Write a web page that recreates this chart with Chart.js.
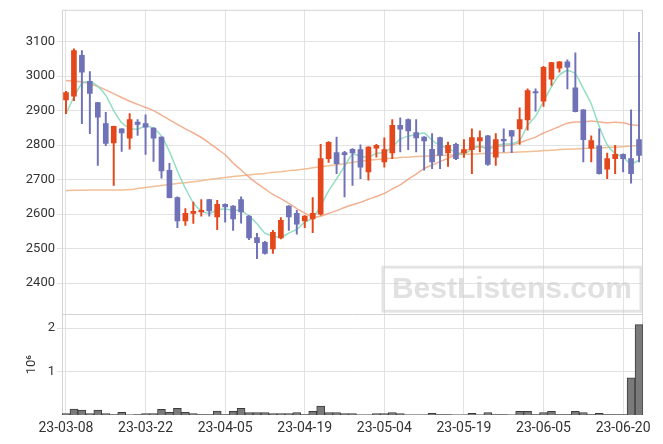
<!DOCTYPE html>
<html>
<head>
<meta charset="utf-8">
<script src="https://cdn.jsdelivr.net/npm/chart.js@4.4.0/dist/chart.umd.min.js"></script>
<style>
  html, body { margin: 0; padding: 0; background: #ffffff; }
</style>
</head>
<body>
<canvas id="chart" width="663" height="444"></canvas>
<script>
// trading days, 23-03-08 .. 23-06-22
const dates = [
  "23-03-08","23-03-09","23-03-10","23-03-13","23-03-14","23-03-15","23-03-16","23-03-17","23-03-20","23-03-21",
  "23-03-22","23-03-23","23-03-24","23-03-27","23-03-28","23-03-29","23-03-30","23-03-31","23-04-03","23-04-04",
  "23-04-05","23-04-06","23-04-07","23-04-10","23-04-11","23-04-12","23-04-13","23-04-14","23-04-17","23-04-18",
  "23-04-19","23-04-20","23-04-21","23-04-24","23-04-25","23-04-26","23-04-27","23-04-28","23-05-02","23-05-03",
  "23-05-04","23-05-08","23-05-09","23-05-10","23-05-11","23-05-12","23-05-15","23-05-16","23-05-17","23-05-18",
  "23-05-19","23-05-22","23-05-23","23-05-24","23-05-25","23-05-26","23-05-30","23-05-31","23-06-01","23-06-02",
  "23-06-05","23-06-07","23-06-08","23-06-09","23-06-12","23-06-13","23-06-14","23-06-15","23-06-16","23-06-19",
  "23-06-20","23-06-21","23-06-22"
];

const opens = [
  2931,2942,3060,2985,2923,2862,2806,2847,2820,2867,
  2862,2849,2823,2727,2648,2580,2602,2606,2642,2592,
  2628,2623,2642,2594,2532,2518,2499,2531,2623,2602,
  2580,2586,2600,2761,2778,2778,2788,2787,2722,2791,
  2751,2777,2857,2874,2836,2823,2788,2822,2777,2802,
  2777,2787,2812,2827,2765,2817,2842,2847,2873,2955,
  2927,2991,3023,3041,2966,2902,2791,2798,2730,2761,
  2773,2761,2816
];
const highs = [
  2956,3079,3074,3013,2924,2895,2855,2848,2891,2874,
  2888,2851,2824,2747,2650,2616,2635,2642,2643,2640,
  2630,2625,2650,2596,2544,2521,2553,2590,2625,2611,
  2596,2648,2802,2810,2823,2782,2790,2801,2796,2802,
  2821,2874,2879,2876,2874,2825,2833,2823,2809,2806,
  2816,2847,2841,2828,2833,2847,2843,2908,2963,2963,
  3028,3040,3042,3047,3067,2903,2827,2847,2777,2799,
  2775,2902,3127
];
const lows = [
  2891,2929,2862,2833,2741,2798,2683,2782,2788,2828,
  2773,2753,2704,2647,2561,2567,2573,2594,2594,2555,
  2577,2553,2574,2526,2471,2484,2486,2528,2553,2542,
  2561,2546,2597,2750,2717,2650,2683,2703,2698,2765,
  2736,2761,2780,2787,2780,2727,2732,2732,2738,2758,
  2764,2717,2780,2741,2741,2780,2778,2802,2843,2898,
  2912,2973,3011,2963,2896,2751,2751,2716,2703,2717,
  2722,2690,2751
];
const closes = [
  2952,3074,3011,2950,2881,2805,2854,2835,2874,2860,
  2852,2820,2725,2648,2580,2602,2608,2611,2609,2628,
  2621,2586,2606,2531,2517,2486,2547,2582,2592,2571,
  2594,2602,2761,2808,2746,2772,2777,2736,2794,2799,
  2787,2857,2846,2841,2821,2812,2751,2770,2799,2761,
  2787,2822,2822,2744,2816,2812,2826,2874,2958,2951,
  3025,3039,3041,3026,2897,2816,2813,2717,2761,2773,
  2761,2717,2770
];

const ma5 = [
  2891,2939,2978,2984,2970,2944,2900,2865,2850,2846,
  2855,2848,2826,2781,2725,2675,2633,2610,2602,2612,
  2615,2611,2610,2594,2572,2545,2537,2533,2545,2556,
  2577,2588,2624,2667,2702,2738,2773,2768,2765,2776,
  2779,2795,2817,2826,2830,2835,2814,2799,2791,2779,
  2774,2788,2798,2787,2798,2803,2804,2814,2857,2884,
  2927,2969,3003,3016,3006,2964,2919,2854,2801,2776,
  2765,2746,2756
];
const ma20 = [
  2987,2986,2983,2978,2970,2960,2949,2938,2927,2918,
  2909,2900,2887,2873,2860,2847,2835,2822,2806,2789,
  2772,2748,2728,2707,2689,2673,2657,2645,2631,2616,
  2603,2592,2594,2602,2610,2619,2627,2634,2643,2651,
  2660,2673,2685,2701,2716,2732,2742,2752,2762,2772,
  2781,2792,2795,2792,2796,2798,2800,2807,2815,2823,
  2835,2844,2854,2863,2867,2867,2870,2867,2865,2866,
  2865,2859,2857
];
const maLong = [
  2668,2669,2669,2670,2670,2670,2670,2670,2671,2674,
  2677,2680,2683,2686,2689,2691,2694,2697,2700,2703,
  2706,2709,2711,2713,2716,2718,2721,2723,2726,2728,
  2731,2734,2737,2740,2743,2746,2750,2753,2756,2758,
  2760,2762,2764,2765,2767,2768,2769,2770,2771,2772,
  2773,2774,2775,2776,2777,2778,2779,2780,2781,2782,
  2784,2785,2787,2788,2789,2790,2791,2792,2793,2794,
  2795,2797,2799
];

const volumes = [
  30000,136000,112000,35000,112000,35000,12000,60000,2000,12000,
  30000,30000,128000,60000,152000,60000,30000,12000,12000,90000,
  12000,86000,155000,57000,57000,57000,35000,31000,31000,57000,
  8000,84000,205000,57000,57000,31000,31000,5000,5000,31000,
  31000,57000,31000,5000,5000,5000,36000,8000,8000,2000,
  5000,36000,2000,57000,8000,8000,2000,84000,84000,8000,
  57000,84000,8000,8000,84000,57000,8000,36000,8000,8000,
  8000,856000,2080000
];

const priceTicks = [2400, 2500, 2600, 2700, 2800, 2900, 3000, 3100];
const volumeTicks = [1000000, 2000000];
const labelEvery = 10;

const upColor = '#e4471b';
const downColor = '#6f72b6';
const gridColor = '#e2e2e2';
const textColor = '#333333';

const bodies = opens.map((o, i) => [o, closes[i]]);
const wicks = lows.map((l, i) => [l, highs[i]]);
const candleColors = opens.map((o, i) => closes[i] >= o ? upColor : downColor);

Chart.defaults.font.family = 'Roboto';
Chart.defaults.color = textColor;

const framePlugin = {
  id: 'frame',
  beforeDatasetsDraw(chart) {
    const { ctx, chartArea: a, scales } = chart;
    ctx.save();
    ctx.strokeStyle = '#d4d4d4';
    ctx.lineWidth = 1;
    ctx.strokeRect(a.left + 0.5, a.top + 0.5, a.width - 1, a.height - 1);
    ctx.beginPath();
    ctx.moveTo(a.left, Math.round(scales.yv.top) + 0.5);
    ctx.lineTo(a.right, Math.round(scales.yv.top) + 0.5);
    ctx.stroke();
    ctx.restore();
  },
  afterDraw(chart) {
    // watermark in the lower right corner of the price panel
    const { ctx, chartArea: a, scales } = chart;
    const text = 'BestListens.com';
    ctx.save();
    ctx.font = 'bold 30px "Liberation Sans", Arial, sans-serif';
    const w = ctx.measureText(text).width + 18;
    const h = 44;
    const right = a.right - 2;
    const bottom = scales.y.bottom - 3;
    ctx.strokeStyle = 'rgba(205,205,205,0.55)';
    ctx.lineWidth = 3;
    ctx.strokeRect(right - w, bottom - h, w, h);
    ctx.fillStyle = 'rgba(205,205,205,0.6)';
    ctx.textAlign = 'center';
    ctx.textBaseline = 'middle';
    ctx.fillText(text, right - w / 2, bottom - h / 2 + 1);
    ctx.restore();
  }
};

new Chart(document.getElementById('chart'), {
  type: 'bar',
  data: {
    labels: dates,
    datasets: [
      {
        type: 'bar', data: bodies, yAxisID: 'y', grouped: false,
        backgroundColor: candleColors, borderWidth: 0,
        barThickness: 5, order: 0
      },
      {
        type: 'bar', data: wicks, yAxisID: 'y', grouped: false,
        backgroundColor: candleColors, borderWidth: 0,
        barThickness: 1.3, order: 1
      },
      {
        type: 'line', data: ma5, yAxisID: 'y',
        borderColor: 'rgba(128,216,184,0.85)', borderWidth: 1.5,
        pointRadius: 0, tension: 0.25, order: 2
      },
      {
        type: 'line', data: ma20, yAxisID: 'y',
        borderColor: 'rgba(238,156,118,0.8)', borderWidth: 1.5,
        pointRadius: 0, tension: 0.25, order: 3
      },
      {
        type: 'line', data: maLong, yAxisID: 'y',
        borderColor: 'rgba(238,180,130,0.85)', borderWidth: 1.5,
        pointRadius: 0, tension: 0.25, order: 4
      },
      {
        type: 'bar', data: volumes, yAxisID: 'yv', grouped: false,
        backgroundColor: '#7a7a7a', borderColor: '#3c3c3c', borderWidth: 1,
        barPercentage: 1, categoryPercentage: 1, order: 5
      }
    ]
  },
  options: {
    responsive: false,
    animation: false,
    layout: { padding: { left: 0, top: 9, right: 20, bottom: 0 } },
    plugins: { legend: { display: false }, tooltip: { enabled: false } },
    scales: {
      x: {
        type: 'category',
        offset: true,
        grid: {
          offset: false,
          drawTicks: false,
          color: ctx => ctx.index % labelEvery === 0 ? gridColor : 'rgba(0,0,0,0)'
        },
        border: { display: false },
        ticks: {
          autoSkip: false, maxRotation: 0, padding: 5,
          font: { size: 14 },
          callback: (v, i) => i % labelEvery === 0 ? dates[i] : ''
        },
        afterFit: s => { s.height = 29; }
      },
      y: {
        position: 'left', stack: 'panels', stackWeight: 305, weight: 1,
        min: 2310, max: 3192,
        grid: { color: gridColor, tickLength: 5 },
        border: { display: false },
        afterBuildTicks: s => { s.ticks = priceTicks.map(v => ({ value: v })); },
        ticks: { padding: 2, font: { size: 13 }, callback: v => String(v) },
        afterFit: s => { s.width = 62; }
      },
      yv: {
        position: 'left', stack: 'panels', stackWeight: 101, weight: 0,
        min: 0, max: 2320000,
        grid: { color: gridColor, tickLength: 5 },
        border: { display: false },
        afterBuildTicks: s => { s.ticks = volumeTicks.map(v => ({ value: v })); },
        ticks: { padding: 2, font: { size: 13 }, callback: v => String(v / 1000000) },
        title: {
          display: true, text: '10\u2076',
          font: { size: 13 }, padding: { top: 24, bottom: 0 }
        },
        afterFit: s => { s.width = 62; }
      }
    }
  },
  plugins: [framePlugin]
});
</script>
</body>
</html>
